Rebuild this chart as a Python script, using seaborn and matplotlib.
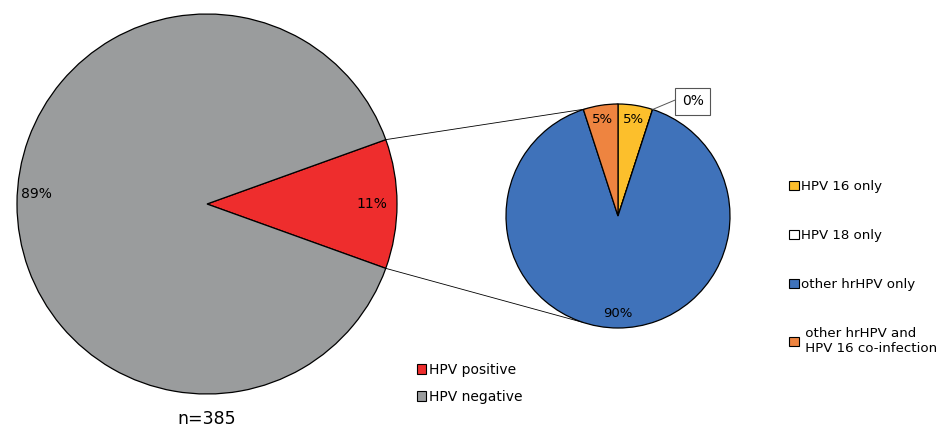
import numpy as np
import matplotlib
matplotlib.use("Agg")
import matplotlib.pyplot as plt
import seaborn as sns

# data
main_labels = ["HPV positive", "HPV negative"]
main_values = [11, 89]
main_colors = ["#ee2d2d", "#9a9c9d"]

sub_labels = ["HPV 16 only", "HPV 18 only", "other hrHPV only",
              " other hrHPV and\n HPV 16 co-infection"]
sub_values = [5, 0, 90, 5]
sub_colors = ["#fcbf2c", "#ffffff", "#3f72ba", "#ee8440"]
n_total = 385

sns.set_style("white")
plt.rcParams["font.family"] = ["DejaVu Sans"]
plt.rcParams["text.color"] = "black"

W, H = 938, 432
fig = plt.figure(figsize=(W / 100, H / 100), dpi=100)
ax = fig.add_axes([0, 0, 1, 1])

big_c, big_r = (207, 228), 190
small_c, small_r = (618, 216), 112
wp = dict(edgecolor="black", linewidth=0.9)

# main pie: positive slice centered on the right
half = 360 * main_values[0] / sum(main_values) / 2
big_w, big_t, big_p = ax.pie(main_values, colors=main_colors, startangle=-half,
                             center=big_c, radius=big_r, wedgeprops=wp,
                             autopct="%1.0f%%", pctdistance=0.87,
                             textprops=dict(fontsize=10, color="black"))
big_p[1].set_position((big_c[0] - 0.9 * big_r, big_c[1] + 10))

# secondary pie
sub_w, sub_t, sub_p = ax.pie(sub_values, colors=sub_colors, startangle=90,
                             counterclock=False, center=small_c, radius=small_r,
                             wedgeprops=wp, autopct="%1.0f%%", pctdistance=0.87,
                             textprops=dict(fontsize=9.5, color="black"))

ax.set_xlim(0, W)
ax.set_ylim(0, H)
ax.set_aspect("equal")
ax.axis("off")

# 0% label in a box outside
z = sub_p[1]
ang = np.deg2rad(90 - 360 * sub_values[0] / sum(sub_values))
ex, ey = small_c[0] + small_r * np.cos(ang), small_c[1] + small_r * np.sin(ang)
z.set_visible(False)
ax.annotate("0%", xy=(ex, ey), xytext=(ex + 40, ey + 8), fontsize=10,
            ha="center", va="center",
            bbox=dict(boxstyle="square,pad=0.45", fc="white", ec="#555555", lw=0.8),
            arrowprops=dict(arrowstyle="-", color="#555555", lw=0.7,
                            shrinkA=0, shrinkB=0, relpos=(0, 0.8)))

# connector lines
a1 = np.deg2rad(half)
p_top = (big_c[0] + big_r * np.cos(a1), big_c[1] + big_r * np.sin(a1))
p_bot = (big_c[0] + big_r * np.cos(-a1), big_c[1] + big_r * np.sin(-a1))
q_top = (small_c[0], small_c[1] + small_r)
b2 = np.deg2rad(252)
q_bot = (small_c[0] + small_r * np.cos(b2), small_c[1] + small_r * np.sin(b2))
ax.plot([p_top[0], q_top[0]], [p_top[1], q_top[1]], color="black", lw=0.6, zorder=0.5)
ax.plot([p_bot[0], q_bot[0]], [p_bot[1], q_bot[1]], color="black", lw=0.6, zorder=0.5)

ax.text(big_c[0], 4, f"n={n_total}", ha="center", va="bottom", fontsize=12.5)

leg1 = ax.legend(big_w, main_labels, loc="upper left", bbox_to_anchor=(411 / W, 1 - 357 / H),
                 frameon=False, fontsize=10, handlelength=0.7, handleheight=0.7,
                 handletextpad=0.2, labelspacing=0.95, borderaxespad=0)
for h in leg1.legend_handles:
    h.set_linewidth(0.8)
ax.add_artist(leg1)

leg2 = ax.legend(sub_w, sub_labels, loc="upper left", bbox_to_anchor=(784 / W, 1 - 175 / H),
                 frameon=False, fontsize=9.6, handlelength=0.7, handleheight=0.7,
                 handletextpad=0.2, labelspacing=2.7, borderaxespad=0)
for h in leg2.legend_handles:
    h.set_linewidth(0.8)

fig.savefig("out.png", dpi=100)
